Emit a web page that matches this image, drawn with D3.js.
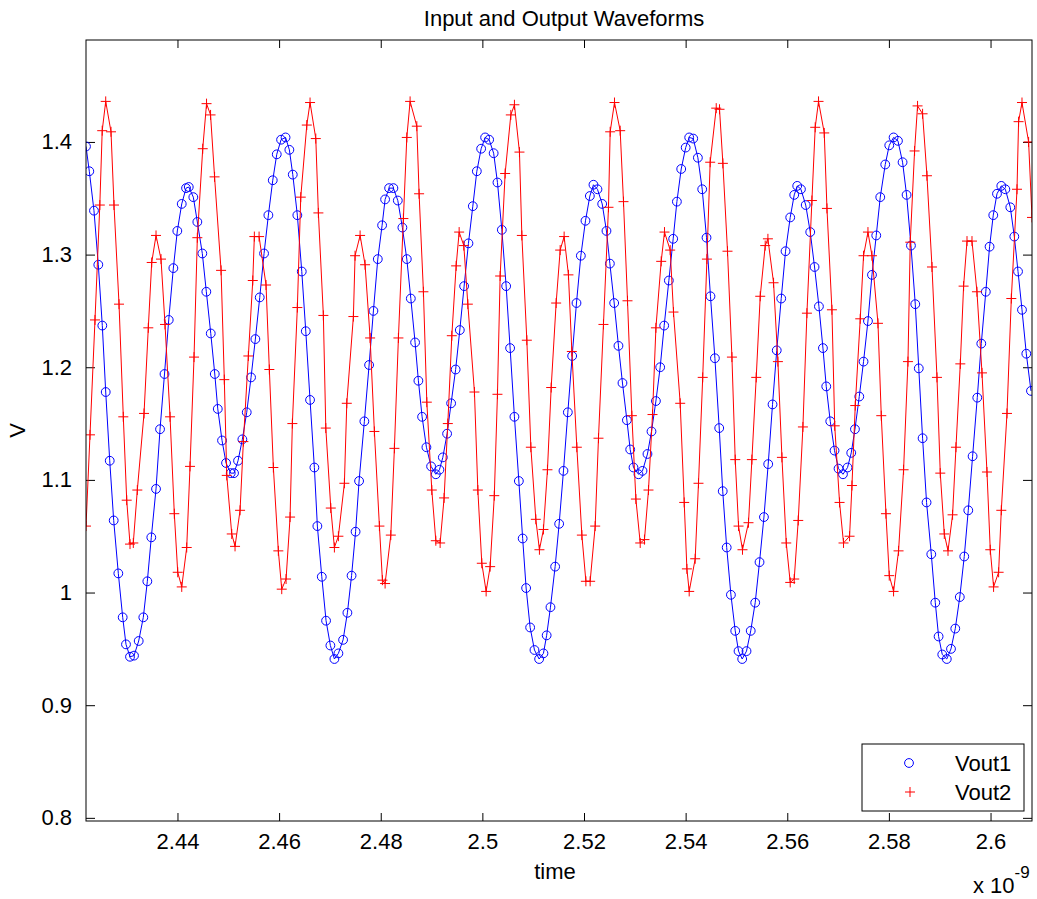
<!DOCTYPE html>
<html>
<head>
<meta charset="utf-8">
<script src="https://cdn.jsdelivr.net/npm/d3@7/dist/d3.min.js"></script>
<style>
  html, body { margin: 0; padding: 0; background: #fff; }
  svg { display: block; }
  text { font-family: "Liberation Sans", Arial, Helvetica, sans-serif; fill: #000; }
</style>
</head>
<body>
<svg id="chart" width="1037" height="899"></svg>
<script>
// Sample times (ns) and node voltages (V) of the two outputs
const timeVout1 = [
  2.42200, 2.42265, 2.42357, 2.42442, 2.42521, 2.42588, 2.42667, 2.42745, 2.42836, 2.42922,
  2.42987, 2.43066, 2.43145, 2.43237, 2.43328, 2.43407, 2.43485, 2.43578, 2.43657, 2.43745,
  2.43828, 2.43919, 2.43997, 2.44084, 2.44169, 2.44222, 2.44312, 2.44391, 2.44489, 2.44568,
  2.44655, 2.44734, 2.44793, 2.44877, 2.44956, 2.45048, 2.45113, 2.45192, 2.45277, 2.45363,
  2.45448, 2.45533, 2.45619, 2.45704, 2.45789, 2.45875, 2.45954, 2.46039, 2.46127, 2.46202,
  2.46269, 2.46359, 2.46446, 2.46525, 2.46609, 2.46694, 2.46753, 2.46840, 2.46924, 2.47009,
  2.47088, 2.47167, 2.47259, 2.47344, 2.47426, 2.47505, 2.47574, 2.47678, 2.47771, 2.47856,
  2.47942, 2.48027, 2.48086, 2.48165, 2.48249, 2.48336, 2.48426, 2.48513, 2.48592, 2.48676,
  2.48741, 2.48814, 2.48899, 2.48991, 2.49084, 2.49155, 2.49222, 2.49306, 2.49385, 2.49474,
  2.49556, 2.49641, 2.49726, 2.49812, 2.49891, 2.49976, 2.50054, 2.50133, 2.50222, 2.50297,
  2.50383, 2.50468, 2.50546, 2.50631, 2.50718, 2.50793, 2.50861, 2.50940, 2.51025, 2.51117,
  2.51202, 2.51265, 2.51340, 2.51432, 2.51511, 2.51596, 2.51682, 2.51767, 2.51852, 2.51938,
  2.52029, 2.52115, 2.52186, 2.52265, 2.52358, 2.52442, 2.52509, 2.52594, 2.52678, 2.52757,
  2.52844, 2.52909, 2.52974, 2.53072, 2.53151, 2.53249, 2.53328, 2.53415, 2.53499, 2.53578,
  2.53670, 2.53755, 2.53828, 2.53913, 2.54001, 2.54070, 2.54149, 2.54241, 2.54326, 2.54411,
  2.54489, 2.54576, 2.54661, 2.54730, 2.54808, 2.54891, 2.54976, 2.55041, 2.55113, 2.55198,
  2.55281, 2.55369, 2.55454, 2.55541, 2.55625, 2.55710, 2.55793, 2.55881, 2.55966, 2.56058,
  2.56137, 2.56196, 2.56269, 2.56363, 2.56452, 2.56537, 2.56623, 2.56702, 2.56767, 2.56846,
  2.56930, 2.57009, 2.57096, 2.57186, 2.57259, 2.57332, 2.57417, 2.57501, 2.57588, 2.57667,
  2.57751, 2.57830, 2.57928, 2.58007, 2.58092, 2.58178, 2.58269, 2.58348, 2.58434, 2.58519,
  2.58588, 2.58663, 2.58741, 2.58834, 2.58913, 2.58978, 2.59050, 2.59139, 2.59222, 2.59306,
  2.59395, 2.59483, 2.59562, 2.59647, 2.59739, 2.59818, 2.59907, 2.59981, 2.60054, 2.60127,
  2.60212, 2.60291, 2.60389, 2.60468, 2.60541, 2.60619, 2.60704, 2.60796
];
const vout1 = [
  1.396, 1.374, 1.339, 1.291, 1.237, 1.178, 1.117, 1.064, 1.017, 0.978,
  0.954, 0.943, 0.944, 0.957, 0.978, 1.010, 1.049, 1.092, 1.145, 1.194,
  1.242, 1.288, 1.321, 1.345, 1.359, 1.360, 1.351, 1.329, 1.301, 1.267,
  1.230, 1.194, 1.163, 1.135, 1.115, 1.106, 1.106, 1.117, 1.136, 1.160,
  1.191, 1.225, 1.262, 1.301, 1.335, 1.366, 1.389, 1.402, 1.404, 1.393,
  1.371, 1.335, 1.285, 1.232, 1.171, 1.111, 1.059, 1.014, 0.975, 0.953,
  0.941, 0.946, 0.958, 0.982, 1.015, 1.054, 1.099, 1.152, 1.202, 1.250,
  1.296, 1.326, 1.349, 1.359, 1.359, 1.348, 1.324, 1.296, 1.261, 1.222,
  1.188, 1.156, 1.129, 1.112, 1.105, 1.109, 1.120, 1.141, 1.168, 1.198,
  1.233, 1.272, 1.310, 1.343, 1.374, 1.394, 1.404, 1.402, 1.390, 1.364,
  1.322, 1.272, 1.217, 1.156, 1.099, 1.048, 1.004, 0.969, 0.949, 0.941,
  0.946, 0.962, 0.987, 1.023, 1.061, 1.108, 1.160, 1.210, 1.257, 1.299,
  1.330, 1.352, 1.362, 1.358, 1.345, 1.321, 1.292, 1.257, 1.219, 1.186,
  1.153, 1.127, 1.111, 1.105, 1.108, 1.123, 1.143, 1.170, 1.200, 1.237,
  1.277, 1.314, 1.347, 1.376, 1.395, 1.404, 1.403, 1.386, 1.358, 1.315,
  1.263, 1.208, 1.146, 1.090, 1.040, 0.998, 0.966, 0.948, 0.941, 0.948,
  0.966, 0.991, 1.027, 1.067, 1.114, 1.167, 1.215, 1.261, 1.303, 1.333,
  1.353, 1.361, 1.358, 1.344, 1.320, 1.289, 1.254, 1.217, 1.183, 1.152,
  1.126, 1.110, 1.105, 1.111, 1.124, 1.145, 1.174, 1.205, 1.241, 1.282,
  1.317, 1.351, 1.380, 1.397, 1.404, 1.401, 1.382, 1.353, 1.308, 1.256,
  1.199, 1.137, 1.080, 1.034, 0.991, 0.961, 0.945, 0.941, 0.950, 0.968,
  0.996, 1.032, 1.073, 1.121, 1.173, 1.221, 1.267, 1.307, 1.335, 1.354,
  1.361, 1.358, 1.342, 1.316, 1.285, 1.251, 1.212, 1.179
];

const timeVout2 = [
  2.42200, 2.42279, 2.42377, 2.42472, 2.42519, 2.42588, 2.42692, 2.42751, 2.42850, 2.42934,
  2.43001, 2.43066, 2.43131, 2.43210, 2.43342, 2.43426, 2.43493, 2.43578, 2.43676, 2.43755,
  2.43854, 2.43938, 2.44005, 2.44084, 2.44182, 2.44247, 2.44326, 2.44391, 2.44497, 2.44572,
  2.44651, 2.44730, 2.44858, 2.44922, 2.44970, 2.45068, 2.45133, 2.45232, 2.45297, 2.45395,
  2.45482, 2.45513, 2.45606, 2.45743, 2.45808, 2.45887, 2.45985, 2.46052, 2.46137, 2.46216,
  2.46261, 2.46359, 2.46426, 2.46545, 2.46609, 2.46722, 2.46773, 2.46871, 2.46919, 2.47017,
  2.47088, 2.47167, 2.47285, 2.47332, 2.47462, 2.47495, 2.47594, 2.47692, 2.47791, 2.47875,
  2.47974, 2.48033, 2.48086, 2.48198, 2.48269, 2.48348, 2.48446, 2.48513, 2.48578, 2.48710,
  2.48755, 2.48840, 2.48907, 2.49005, 2.49084, 2.49169, 2.49247, 2.49320, 2.49399, 2.49484,
  2.49543, 2.49635, 2.49714, 2.49844, 2.49911, 2.49989, 2.50074, 2.50153, 2.50235, 2.50297,
  2.50350, 2.50448, 2.50560, 2.50631, 2.50730, 2.50777, 2.50875, 2.50954, 2.51052, 2.51123,
  2.51202, 2.51281, 2.51354, 2.51452, 2.51531, 2.51609, 2.51694, 2.51761, 2.51859, 2.51958,
  2.52037, 2.52121, 2.52220, 2.52285, 2.52383, 2.52482, 2.52515, 2.52600, 2.52712, 2.52777,
  2.52856, 2.52942, 2.53021, 2.53106, 2.53190, 2.53269, 2.53348, 2.53415, 2.53519, 2.53584,
  2.53696, 2.53761, 2.53893, 2.53972, 2.54025, 2.54070, 2.54188, 2.54253, 2.54336, 2.54419,
  2.54483, 2.54602, 2.54667, 2.54733, 2.54824, 2.54911, 2.54976, 2.55041, 2.55119, 2.55237,
  2.55304, 2.55389, 2.55468, 2.55566, 2.55619, 2.55730, 2.55816, 2.55895, 2.55980, 2.56058,
  2.56137, 2.56216, 2.56308, 2.56387, 2.56485, 2.56550, 2.56615, 2.56728, 2.56781, 2.56879,
  2.56934, 2.57029, 2.57107, 2.57226, 2.57273, 2.57338, 2.57436, 2.57501, 2.57588, 2.57667,
  2.57785, 2.57850, 2.57942, 2.58007, 2.58092, 2.58190, 2.58289, 2.58375, 2.58420, 2.58505,
  2.58564, 2.58663, 2.58749, 2.58848, 2.58946, 2.59011, 2.59090, 2.59163, 2.59253, 2.59320,
  2.59405, 2.59470, 2.59537, 2.59635, 2.59733, 2.59832, 2.59930, 2.59995, 2.60060, 2.60159,
  2.60212, 2.60324, 2.60409, 2.60521, 2.60552, 2.60619, 2.60749, 2.60816
];
const vout2 = [
  1.059, 1.140, 1.242, 1.344, 1.410, 1.436, 1.409, 1.344, 1.256, 1.156,
  1.082, 1.043, 1.044, 1.091, 1.159, 1.235, 1.293, 1.317, 1.296, 1.238,
  1.156, 1.070, 1.018, 1.005, 1.040, 1.112, 1.209, 1.315, 1.394, 1.434,
  1.424, 1.369, 1.286, 1.189, 1.104, 1.052, 1.041, 1.073, 1.134, 1.210,
  1.277, 1.316, 1.316, 1.273, 1.198, 1.111, 1.037, 1.003, 1.012, 1.067,
  1.150, 1.253, 1.351, 1.415, 1.435, 1.403, 1.337, 1.246, 1.146, 1.075,
  1.040, 1.050, 1.097, 1.168, 1.245, 1.299, 1.317, 1.291, 1.226, 1.143,
  1.059, 1.011, 1.008, 1.051, 1.128, 1.226, 1.332, 1.404, 1.436, 1.414,
  1.354, 1.267, 1.169, 1.091, 1.046, 1.044, 1.084, 1.150, 1.228, 1.290,
  1.320, 1.308, 1.256, 1.178, 1.091, 1.026, 1.001, 1.023, 1.086, 1.176,
  1.281, 1.372, 1.424, 1.433, 1.391, 1.317, 1.224, 1.129, 1.065, 1.038,
  1.056, 1.109, 1.182, 1.257, 1.304, 1.316, 1.282, 1.214, 1.129, 1.051,
  1.010, 1.010, 1.059, 1.137, 1.238, 1.342, 1.409, 1.435, 1.410, 1.347,
  1.259, 1.157, 1.083, 1.044, 1.047, 1.091, 1.158, 1.235, 1.294, 1.320,
  1.304, 1.249, 1.168, 1.080, 1.021, 1.001, 1.030, 1.097, 1.191, 1.296,
  1.382, 1.430, 1.429, 1.381, 1.303, 1.209, 1.118, 1.059, 1.038, 1.062,
  1.118, 1.191, 1.263, 1.308, 1.314, 1.275, 1.205, 1.120, 1.044, 1.009,
  1.012, 1.064, 1.147, 1.248, 1.348, 1.413, 1.436, 1.408, 1.341, 1.251,
  1.148, 1.080, 1.044, 1.050, 1.095, 1.166, 1.243, 1.299, 1.320, 1.299,
  1.239, 1.157, 1.070, 1.015, 1.001, 1.037, 1.109, 1.205, 1.311, 1.392,
  1.432, 1.425, 1.370, 1.289, 1.191, 1.106, 1.052, 1.037, 1.069, 1.129,
  1.203, 1.272, 1.312, 1.312, 1.267, 1.195, 1.107, 1.038, 1.005, 1.018,
  1.073, 1.159, 1.261, 1.358, 1.418, 1.435, 1.400, 1.333
];

const xTickValues = [2.44, 2.46, 2.48, 2.5, 2.52, 2.54, 2.56, 2.58, 2.6];
const yTickValues = [0.8, 0.9, 1, 1.1, 1.2, 1.3, 1.4];
const seriesNames = ["Vout1", "Vout2"];

// ---- layout ----
const svg = d3.select("#chart");
const plot = { left: 86, top: 40, right: 1032, bottom: 821 };

const x = d3.scaleLinear()
  .domain([timeVout1[0], timeVout2[timeVout2.length - 1]])
  .range([plot.left, plot.right]);
const y = d3.scaleLinear()
  .domain([0.7972, 1.4905])
  .range([plot.bottom, plot.top]);

const fontSize = 22;

svg.append("rect").attr("width", 1037).attr("height", 899).attr("fill", "#fff");

svg.append("defs").append("clipPath").attr("id", "plotClip")
  .append("rect")
  .attr("x", plot.left).attr("y", plot.top)
  .attr("width", plot.right - plot.left).attr("height", plot.bottom - plot.top);

// ---- axes (ticks pointing inward on all four sides) ----
const fmt = d => String(d);

const gx = svg.append("g").attr("transform", `translate(0,${plot.bottom})`)
  .call(d3.axisBottom(x).tickValues(xTickValues).tickFormat(fmt)
    .tickSizeInner(-8).tickSizeOuter(0).tickPadding(12));
const gxTop = svg.append("g").attr("transform", `translate(0,${plot.top})`)
  .call(d3.axisTop(x).tickValues(xTickValues).tickFormat("")
    .tickSizeInner(-8).tickSizeOuter(0));
const gy = svg.append("g").attr("transform", `translate(${plot.left},0)`)
  .call(d3.axisLeft(y).tickValues(yTickValues).tickFormat(fmt)
    .tickSizeInner(-9).tickSizeOuter(0).tickPadding(14));
const gyRight = svg.append("g").attr("transform", `translate(${plot.right},0)`)
  .call(d3.axisRight(y).tickValues(yTickValues).tickFormat("")
    .tickSizeInner(-9).tickSizeOuter(0));

[gx, gxTop, gy, gyRight].forEach(g => {
  g.select(".domain").remove();
  g.selectAll(".tick line").attr("stroke", "#000").attr("stroke-width", 1);
  g.selectAll(".tick text")
    .style("font-family", '"Liberation Sans", Arial, sans-serif')
    .style("font-size", fontSize + "px")
    .attr("fill", "#000");
});

// ---- series ----
const pts1 = timeVout1.map((t, i) => [t, vout1[i]]);
const pts2 = timeVout2.map((t, i) => [t, vout2[i]]);
const line = d3.line().x(d => x(d[0])).y(d => y(d[1]));

const series = svg.append("g").attr("clip-path", "url(#plotClip)");

series.append("path").datum(pts1)
  .attr("d", line).attr("fill", "none").attr("stroke", "#0000ff").attr("stroke-width", 1);
series.append("g").selectAll("circle").data(pts1).join("circle")
  .attr("cx", d => x(d[0])).attr("cy", d => y(d[1])).attr("r", 4.4)
  .attr("fill", "none").attr("stroke", "#0000ff").attr("stroke-width", 1);

const plusPath = "M-5,0H5M0,-5V5";
series.append("path").datum(pts2)
  .attr("d", line).attr("fill", "none").attr("stroke", "#ff0000").attr("stroke-width", 1);
series.append("g").selectAll("path").data(pts2).join("path")
  .attr("transform", d => `translate(${x(d[0])},${y(d[1])})`)
  .attr("d", plusPath).attr("fill", "none").attr("stroke", "#ff0000").attr("stroke-width", 1);

// ---- frame ----
svg.append("rect")
  .attr("x", plot.left).attr("y", plot.top)
  .attr("width", plot.right - plot.left).attr("height", plot.bottom - plot.top)
  .attr("fill", "none").attr("stroke", "#000").attr("stroke-width", 1);

// ---- labels ----
svg.append("text").attr("x", (plot.left + plot.right) / 2 + 5).attr("y", 26)
  .attr("text-anchor", "middle").style("font-size", fontSize + "px")
  .text("Input and Output Waveforms");
svg.append("text").attr("x", (plot.left + plot.right) / 2 - 4).attr("y", 879)
  .attr("text-anchor", "middle").style("font-size", fontSize + "px")
  .text("time");
svg.append("text")
  .attr("transform", `translate(25,${(plot.top + plot.bottom) / 2}) rotate(-90)`)
  .attr("text-anchor", "middle").style("font-size", fontSize + "px")
  .text("V");
const mult = svg.append("text").attr("x", 973).attr("y", 893).style("font-size", fontSize + "px");
mult.append("tspan").text("x 10");
mult.append("tspan").attr("dy", -15).style("font-size", "17px").text("-9");

// ---- legend ----
const legend = svg.append("g");
legend.append("rect").attr("x", 862).attr("y", 744).attr("width", 162).attr("height", 67)
  .attr("fill", "#fff").attr("stroke", "#000").attr("stroke-width", 1);
const entry = legend.selectAll("g.entry").data(seriesNames).join("g")
  .attr("class", "entry")
  .attr("transform", (d, i) => `translate(0,${763 + i * 29})`);
entry.filter((d, i) => i === 0).append("circle")
  .attr("cx", 909).attr("cy", 0).attr("r", 4.4)
  .attr("fill", "none").attr("stroke", "#0000ff");
entry.filter((d, i) => i === 1).append("path")
  .attr("transform", "translate(910,0)").attr("d", plusPath)
  .attr("fill", "none").attr("stroke", "#ff0000");
entry.append("text").attr("x", 955).attr("y", 8)
  .style("font-size", fontSize + "px").text(d => d);
</script>
</body>
</html>
